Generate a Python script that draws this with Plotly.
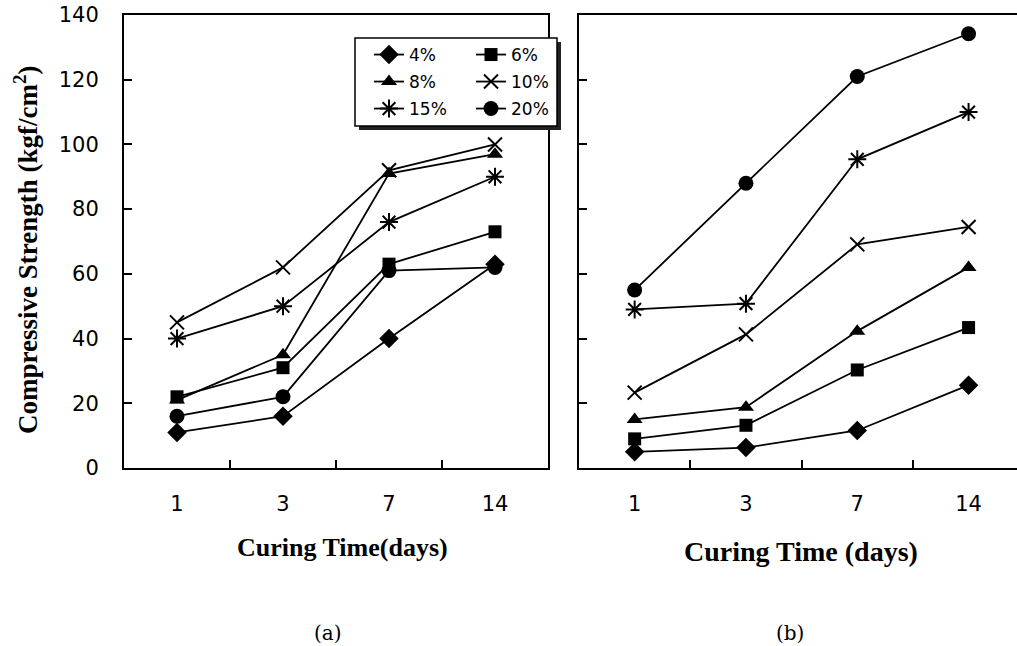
import plotly.graph_objects as go

days = ["1", "3", "7", "14"]
series_names = ["4%", "6%", "8%", "10%", "15%", "20%"]

# Panel (a)
a_4 = [11, 16, 40, 63]
a_6 = [22, 31, 63, 73]
a_8 = [21, 35, 91, 97]
a_10 = [45, 62, 92, 100]
a_15 = [40, 50, 76, 90]
a_20 = [16, 22, 61, 62]

# Panel (b)
b_4 = [5, 6.3, 11.6, 25.6]
b_6 = [9, 13.2, 30.3, 43.4]
b_8 = [15, 18.8, 42.3, 62]
b_10 = [23.3, 41.3, 69.1, 74.5]
b_15 = [49, 50.8, 95.4, 110]
b_20 = [55, 88, 121, 134.2]

y_ticks = [0, 20, 40, 60, 80, 100, 120, 140]

W, H = 1017, 646

symbols = {
    "4%": dict(symbol="diamond", size=15, color="black"),
    "6%": dict(symbol="square", size=13, color="black"),
    "8%": dict(symbol="triangle-up", size=14, color="black"),
    "10%": dict(symbol="x-thin-open", size=14, color="black", line=dict(width=2, color="black")),
    "15%": dict(symbol="asterisk-open", size=15, color="black", line=dict(width=2, color="black")),
    "20%": dict(symbol="circle", size=15, color="black"),
}

a_data = [a_4, a_6, a_8, a_10, a_15, a_20]
b_data = [b_4, b_6, b_8, b_10, b_15, b_20]
legend_ids = ["legend", "legend2", "legend3", "legend4", "legend5", "legend6"]

fig = go.Figure()
for i, name in enumerate(series_names):
    fig.add_trace(go.Scatter(
        x=days, y=a_data[i], name=name, mode="lines+markers",
        line=dict(color="black", width=1.8), marker=symbols[name],
        xaxis="x", yaxis="y", legend=legend_ids[i], showlegend=True,
    ))
for i, name in enumerate(series_names):
    fig.add_trace(go.Scatter(
        x=days, y=b_data[i], name=name, mode="lines+markers",
        line=dict(color="black", width=1.8), marker=symbols[name],
        xaxis="x2", yaxis="y2", showlegend=False,
    ))

def px(x):
    return x / W

def py(y):
    return 1 - y / H

ydom = [py(468), py(15)]
tickfont = dict(family="DejaVu Sans", size=21, color="black")
common = dict(showline=True, linecolor="black", linewidth=2, ticks="inside", ticklen=8,
              tickwidth=1.5, tickcolor="black", showgrid=False, zeroline=False, automargin=False)

fig.update_layout(
    template="plotly_white",
    width=W, height=H,
    margin=dict(l=0, r=0, t=0, b=0, autoexpand=False),
    paper_bgcolor="white", plot_bgcolor="white",
    xaxis=dict(common, domain=[px(124), px(548)], type="category", range=[-0.5, 3.5],
               mirror=True, tickson="boundaries", tickfont=tickfont, ticklabelstandoff=16),
    yaxis=dict(common, domain=ydom, range=[0, 140], tickvals=y_ticks, mirror=True,
               tickfont=tickfont, ticklabelstandoff=19, ticklabeloverflow="allow"),
    xaxis2=dict(common, domain=[px(579), 1.0], type="category", range=[-0.5, 3.435],
                mirror=True, tickson="boundaries", tickfont=tickfont, ticklabelstandoff=16,
                anchor="y2"),
    yaxis2=dict(common, domain=ydom, range=[0, 140], tickvals=y_ticks, showticklabels=False,
                anchor="x2", mirror=False),
)

# legends, two columns x three rows
leg_pos = {
    "legend": (369, 55), "legend3": (369, 82), "legend5": (369, 109),
    "legend2": (471, 55), "legend4": (471, 82), "legend6": (471, 109),
}
for lid, (lx, ly) in leg_pos.items():
    fig.update_layout({lid: dict(x=px(lx), y=py(ly), xanchor="left", yanchor="middle",
                                 bgcolor="rgba(0,0,0,0)", borderwidth=0,
                                 font=dict(family="DejaVu Sans", size=17, color="black"))})

# legend frame with shadow
fig.add_shape(type="rect", xref="paper", yref="paper", layer="above",
              x0=px(359), x1=px(561), y0=py(130), y1=py(42),
              fillcolor="#222222", line=dict(width=0))
fig.add_shape(type="rect", xref="paper", yref="paper", layer="above",
              x0=px(355), x1=px(557), y0=py(126), y1=py(38),
              fillcolor="white", line=dict(color="black", width=1.5))

serif_b = dict(family="Liberation Serif", color="black")
ann = dict(xref="paper", yref="paper", showarrow=False, xanchor="center", yanchor="middle")
fig.add_annotation(ann, text="<b>Compressive Strength (kgf/cm<sup>2</sup>)</b>",
                   x=px(26), y=py(250), textangle=-90, font=dict(serif_b, size=27))
fig.add_annotation(ann, text="<b>Curing Time(days)</b>",
                   x=px(342), y=py(547), font=dict(serif_b, size=26))
fig.add_annotation(ann, text="<b>Curing Time (days)</b>",
                   x=px(801), y=py(551), font=dict(serif_b, size=28))
fig.add_annotation(ann, text="(a)", x=px(328), y=py(633),
                   font=dict(family="DejaVu Serif", size=20, color="black"))
fig.add_annotation(ann, text="(b)", x=px(790), y=py(633),
                   font=dict(family="DejaVu Serif", size=20, color="black"))

fig.write_html("out.html", config={"displayModeBar": False},
               post_script="document.body.style.margin='0px';")
